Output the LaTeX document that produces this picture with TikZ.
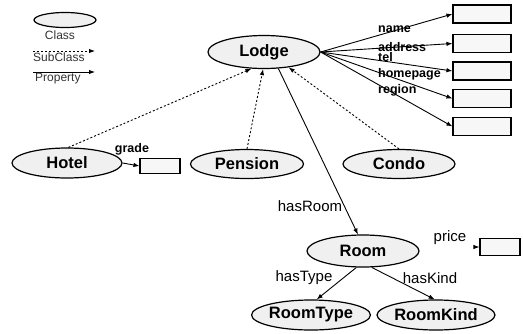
\documentclass[tikz,border=0pt]{standalone}
\usepackage{fontspec}
\setmainfont{Liberation Sans}
\usetikzlibrary{positioning, arrows.meta, shapes.geometric}

\begin{document}
\begin{tikzpicture}[x=1pt, y=-1pt,
    classnode/.style={ellipse, draw, line width=1.2pt, fill=gray!12, inner sep=0pt,
      minimum width=112pt, minimum height=30pt, font=\fontsize{16.5}{18}\selectfont\bfseries},
    valbox/.style={rectangle, draw, line width=1.1pt, fill=gray!6, inner sep=0pt,
      minimum width=58pt, minimum height=18pt},
    subarrow/.style={line width=0.9pt, dash pattern=on 2pt off 2pt, -{Latex[length=6pt,width=4.5pt]}},
    proparrow/.style={line width=0.9pt, -{Latex[length=6pt,width=4.5pt]}},
    proplabel/.style={inner sep=0pt, font=\fontsize{12.5}{14}\selectfont\bfseries},
    rellabel/.style={inner sep=0pt, font=\fontsize{15}{17}\selectfont},
    keylabel/.style={inner sep=0pt, text=black!80, font=\fontsize{12}{13}\selectfont}]
  \useasboundingbox (0,0) rectangle (523,333);

  % legend
  \node[ellipse, draw, line width=1.2pt, fill=gray!12, minimum width=62pt, minimum height=15pt] (keyclass) at (65,20) {};
  \node[keylabel] (keyclasstext) at (60,35) {Class};
  \coordinate (subfrom) at (33,51);
  \coordinate (subto) at (95,51);
  \draw[subarrow] (subfrom) -- (subto);
  \node[keylabel, anchor=west] (keysubtext) at (33,57) {SubClass};
  \coordinate (propfrom) at (33,72);
  \coordinate (propto) at (95,72);
  \draw[proparrow] (propfrom) -- (propto);
  \node[keylabel, anchor=west] (keyproptext) at (35,79) {Property};

  % classes
  \node[classnode, minimum height=33pt] (lodge) at (264,52) {Lodge};
  \node[classnode, minimum width=110pt] (hotel) at (67,163) {Hotel};
  \node[classnode, minimum width=113pt, minimum height=29pt] (pension) at (247,164) {Pension};
  \node[classnode, minimum height=29pt] (condo) at (399,164) {Condo};
  \node[classnode, minimum height=32pt] (room) at (363,251) {Room};
  \node[classnode] (roomtype) at (311,315) {RoomType};
  \node[classnode] (roomkind) at (436,315) {RoomKind};

  % datatype properties of Lodge
  \foreach \y/\p/\ly [count=\i] in {14/name/29, 43.5/address/47, 71/tel/57, 98.5/homepage/74, 126.5/region/90} {
    \node[valbox] (val\i) at (482,\y) {};
    \draw[proparrow] (lodge.east) -- (val\i.west);
    \node[proplabel, anchor=west] (lbl\i) at (378,\ly) {\p};
  }

  % subclasses
  \draw[subarrow] (hotel.85) -- (lodge.-127);
  \draw[subarrow] (pension.north) -- (lodge.-93);
  \draw[subarrow] (condo.north) -- (lodge.-32);

  % object properties
  \draw[proparrow] (lodge.-49) -- (room.107);
  \node[rellabel] (hasroom) at (310,206) {hasRoom};
  \draw[proparrow] (room.-112) -- (roomtype.70);
  \draw[proparrow] (room.-62) -- (roomkind.95);
  \node[rellabel] (hastype) at (304,278) {hasType};
  \node[rellabel] (haskind) at (430,278) {hasKind};

  % grade and price
  \node[valbox, minimum width=40pt, minimum height=15pt] (gradebox) at (160,166) {};
  \draw[proparrow] (hotel.east) -- (gradebox.west);
  \node[proplabel] (gradetext) at (132,149) {grade};
  \node[rellabel] (pricetext) at (450,238) {price};
  \node[valbox, minimum width=40pt, minimum height=17pt] (pricebox) at (500,247) {};
  \coordinate[left=3pt of pricebox] (pricetail);
  \draw[proparrow] (pricetail) -- (pricebox.west);
\end{tikzpicture}
\end{document}
